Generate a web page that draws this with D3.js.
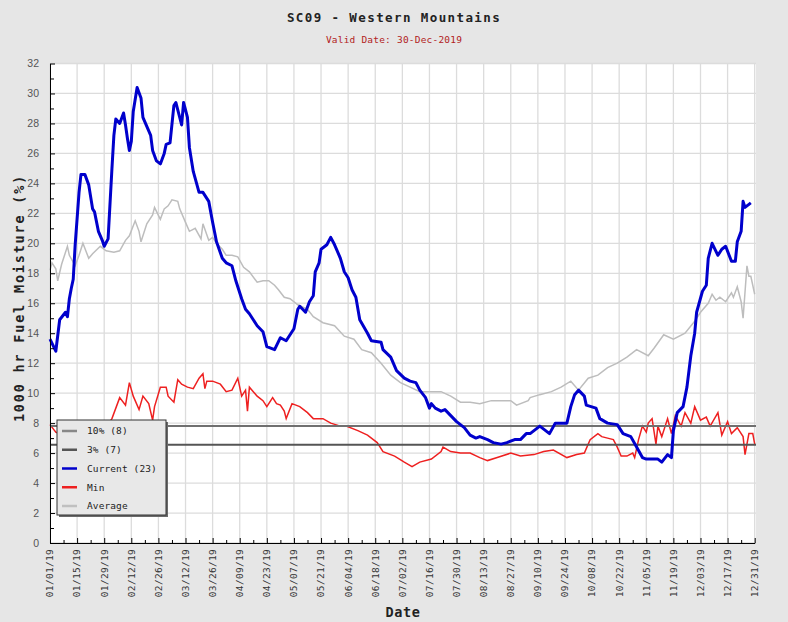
<!DOCTYPE html>
<html>
<head>
<meta charset="utf-8">
<script src="https://cdn.jsdelivr.net/npm/d3@7"></script>
<style>
body { margin: 0; background: #e6e6e6; }
svg { display: block; }
</style>
</head>
<body>
<svg id="chart" width="788" height="622"></svg>
<script>
// data: [day of year (0 = Jan 1), value]
var current = [[0,13.6],[3,12.8],[5,14.9],[8,15.4],[9,15.1],[10,16.3],[11,17.0],[12,17.6],[13,19.9],[15,23.4],[16,24.6],[18,24.6],[20,23.9],[22,22.3],[23,22.1],[25,20.8],[27,20.2],[28,19.8],[30,20.3],[32,25.0],[33,27.2],[34,28.3],[36,28.0],[38,28.7],[39,27.9],[40,27.0],[41,26.2],[42,26.8],[43,28.8],[45,30.4],[47,29.7],[48,28.4],[50,27.8],[52,27.2],[53,26.2],[55,25.5],[57,25.3],[59,26.0],[60,26.6],[62,26.7],[64,29.2],[65,29.4],[67,28.4],[68,27.9],[69,29.4],[71,28.4],[72,26.4],[74,24.8],[77,23.4],[79,23.4],[82,22.8],[84,21.4],[86,20.1],[89,19.0],[91,18.7],[94,18.5],[96,17.5],[99,16.3],[101,15.6],[103,15.3],[107,14.5],[110,14.1],[112,13.1],[116,12.9],[119,13.7],[122,13.5],[126,14.3],[128,15.6],[129,15.8],[132,15.4],[134,16.1],[136,16.5],[137,18.1],[139,18.7],[140,19.6],[143,19.9],[145,20.4],[147,19.9],[150,19.0],[152,18.1],[154,17.7],[156,16.9],[158,16.4],[160,14.9],[164,14.0],[166,13.5],[171,13.4],[172,12.9],[176,12.4],[179,11.5],[183,11.0],[186,10.8],[189,10.7],[191,10.2],[194,9.7],[196,9.0],[197,9.3],[199,9.0],[202,8.8],[204,8.9],[207,8.5],[210,8.1],[214,7.7],[217,7.2],[220,7.0],[222,7.1],[226,6.9],[229,6.7],[233,6.6],[236,6.7],[240,6.9],[243,6.9],[246,7.3],[248,7.3],[253,7.8],[258,7.3],[261,8.0],[267,8.0],[269,9.1],[271,9.9],[273,10.2],[276,9.8],[277,9.2],[282,9.0],[284,8.3],[288,8.0],[293,7.9],[296,7.3],[300,7.1],[303,6.4],[306,5.7],[308,5.6],[314,5.6],[316,5.4],[319,5.9],[321,5.7],[322,7.5],[324,8.7],[327,9.1],[329,10.4],[331,12.5],[333,14.0],[334,15.4],[337,16.8],[339,17.2],[340,19.0],[342,20.0],[345,19.2],[347,19.6],[349,19.8],[352,18.8],[354,18.8],[355,20.1],[357,20.8],[358,22.8],[359,22.4],[362,22.7]];

var minimum = [[0,7.9],[3,7.4],[8,7.1],[15,6.9],[22,7.2],[28,7.6],[32,8.3],[36,9.7],[39,9.2],[41,10.7],[43,9.8],[46,8.9],[48,9.8],[51,9.3],[53,8.2],[54,9.1],[57,10.4],[60,10.4],[61,9.8],[64,9.4],[66,10.9],[68,10.6],[71,10.4],[74,10.3],[77,11.0],[79,11.3],[80,10.3],[81,10.8],[84,10.8],[88,10.6],[91,10.1],[94,10.2],[97,11.0],[99,9.8],[101,10.2],[102,8.8],[103,10.4],[107,9.8],[110,9.5],[112,9.1],[115,9.7],[117,9.3],[119,9.2],[121,8.8],[122,8.3],[125,9.3],[129,9.1],[133,8.7],[136,8.3],[141,8.3],[145,8.0],[150,7.8],[153,7.8],[159,7.5],[164,7.2],[169,6.7],[172,6.1],[178,5.8],[183,5.4],[187,5.1],[191,5.4],[197,5.6],[202,6.1],[203,6.4],[207,6.1],[212,6.0],[217,6.0],[222,5.7],[226,5.5],[231,5.7],[238,6.0],[243,5.8],[250,5.9],[255,6.1],[260,6.2],[267,5.7],[272,5.9],[276,6.0],[279,6.9],[283,7.3],[285,7.1],[288,7.0],[291,6.9],[293,6.4],[295,5.8],[298,5.8],[301,6.0],[302,5.7],[304,6.9],[306,7.8],[308,7.4],[309,8.0],[311,8.3],[313,6.6],[314,7.8],[316,7.1],[319,8.3],[321,7.3],[323,8.5],[326,7.8],[328,8.7],[331,8.0],[333,9.1],[336,8.2],[339,8.4],[341,7.8],[345,8.7],[347,7.2],[350,8.1],[352,7.3],[355,7.7],[358,7.1],[359,5.9],[361,7.3],[363,7.3],[364,6.6]];

var average = [[0,18.2],[1,18.7],[3,18.3],[4,17.5],[6,18.6],[9,19.8],[10,19.2],[13,18.5],[15,19.2],[17,20.0],[20,19.0],[22,19.3],[26,19.8],[29,19.5],[33,19.4],[36,19.5],[39,20.2],[41,20.5],[44,21.5],[46,20.8],[47,20.1],[50,21.3],[53,21.9],[54,22.4],[57,21.6],[59,22.3],[61,22.5],[63,22.9],[66,22.8],[67,22.3],[70,21.4],[72,20.8],[75,21.0],[78,20.3],[79,21.3],[82,20.2],[84,20.4],[86,20.0],[89,19.6],[91,19.2],[94,19.2],[97,19.1],[100,18.4],[103,18.1],[107,17.4],[110,17.5],[113,17.5],[116,17.2],[118,16.9],[121,16.4],[124,16.3],[128,15.9],[133,15.6],[136,15.1],[141,14.7],[147,14.5],[152,13.8],[157,13.6],[161,12.9],[166,12.7],[171,12.0],[176,11.2],[181,10.7],[186,10.4],[191,10.1],[197,10.1],[202,10.1],[207,9.8],[212,9.4],[217,9.4],[222,9.3],[228,9.5],[233,9.5],[238,9.5],[241,9.2],[247,9.5],[248,9.7],[253,9.9],[259,10.1],[264,10.4],[269,10.8],[273,10.2],[278,11.0],[283,11.2],[288,11.7],[293,12.0],[298,12.4],[303,12.9],[309,12.5],[312,13.0],[317,13.9],[322,13.6],[328,14.0],[333,14.8],[336,15.4],[340,16.0],[342,16.6],[344,16.2],[346,16.4],[349,16.1],[352,16.7],[353,16.4],[355,17.1],[357,16.1],[358,15.0],[360,18.5],[361,17.8],[362,17.8],[364,16.6]];

// percentile reference lines
var thresholdNames = ["10% (8)", "3% (7)"];
var thresholdValues = [7.8, 6.55];

var legendNames = ["10% (8)", "3% (7)", "Current (23)", "Min", "Average"];
var legendColors = ["#888888", "#555555", "#0000cc", "#ee2020", "#c0c0c0"];

var yTicks = d3.range(0, 33, 2);
var titleText = "SC09 - Western Mountains";
var subTitle = "Valid Date: 30-Dec-2019";

var start = new Date(2019, 0, 1);
var toDate = function(d) { return d3.timeDay.offset(start, d); };

var svg = d3.select("#chart");
var m = {left: 50, right: 754.7, top: 63.5, bottom: 543, edge: 756};
var mono = "'DejaVu Sans Mono', monospace";

var x = d3.scaleTime()
    .domain([start, toDate(364)])
    .range([m.left, m.right]);
var y = d3.scaleLinear()
    .domain([0, 32])
    .range([m.bottom, m.top]);

var majorDates = d3.range(0, 365, 14).map(toDate);
var minorDates = d3.range(7, 365, 14).map(toDate);

// plot background
svg.append("rect")
    .attr("x", m.left).attr("y", m.top)
    .attr("width", m.edge - m.left).attr("height", m.bottom - m.top)
    .attr("fill", "white");

// grid
var grid = svg.append("g").attr("stroke", "#dcdcdc").attr("stroke-width", 1.3);
grid.selectAll("line.v")
    .data(majorDates)
    .enter().append("line")
    .attr("x1", d => x(d)).attr("x2", d => x(d))
    .attr("y1", m.top).attr("y2", m.bottom);
grid.selectAll("line.h")
    .data(yTicks)
    .enter().append("line")
    .attr("x1", m.left).attr("x2", m.edge)
    .attr("y1", d => y(d)).attr("y2", d => y(d));

var line = d3.line()
    .x(d => x(toDate(d[0])))
    .y(d => y(d[1]));

svg.append("path")
    .attr("d", line(average))
    .attr("fill", "none")
    .attr("stroke", "#bdbdbd")
    .attr("stroke-width", 1.5);

svg.append("path")
    .attr("d", line(minimum))
    .attr("fill", "none")
    .attr("stroke", legendColors[3])
    .attr("stroke-width", 1.5);

// threshold lines
svg.selectAll("line.thr")
    .data(thresholdValues)
    .enter().append("line")
    .attr("x1", m.left).attr("x2", m.edge)
    .attr("y1", d => y(d)).attr("y2", d => y(d))
    .attr("stroke", (d, i) => i == 0 ? "#707070" : "#555555")
    .attr("stroke-width", 2);

svg.append("path")
    .attr("d", line(current))
    .attr("fill", "none")
    .attr("stroke", legendColors[2])
    .attr("stroke-width", 3)
    .attr("stroke-linejoin", "round");

// x axis
var xAxis = svg.append("g")
    .attr("transform", `translate(0, ${m.bottom})`)
    .call(d3.axisBottom(x).tickValues(majorDates).tickSize(-5).tickSizeOuter(0)
        .tickFormat(d3.timeFormat("%m/%d/%y")));
xAxis.selectAll("text")
    .attr("transform", "rotate(-90)")
    .attr("text-anchor", "end")
    .attr("x", -6).attr("y", 0).attr("dy", "0.3em")
    .style("font-family", mono)
    .style("font-size", "9.5px")
    .style("letter-spacing", "0.3px")
    .attr("fill", "#333");
svg.append("g")
    .attr("transform", `translate(0, ${m.bottom})`)
    .call(d3.axisBottom(x).tickValues(minorDates).tickSize(-3).tickSizeOuter(0).tickFormat(""))
    .select(".domain").remove();

// y axis
var yAxis = svg.append("g")
    .attr("transform", `translate(${m.left}, 0)`)
    .call(d3.axisLeft(y).tickValues(yTicks).tickSize(-5).tickSizeOuter(0).tickPadding(11));
yAxis.selectAll("text")
    .style("font-family", "'Liberation Sans', Arial")
    .style("font-size", "10.5px")
    .attr("fill", "#555");
svg.append("g")
    .attr("transform", `translate(${m.left}, 0)`)
    .call(d3.axisLeft(y).tickValues(d3.range(1, 32, 2)).tickSize(-4).tickSizeOuter(0).tickFormat(""))
    .select(".domain").remove();

// titles
svg.append("text")
    .attr("x", 394).attr("y", 22)
    .attr("text-anchor", "middle")
    .style("font-family", mono)
    .style("font-size", "12.5px")
    .style("font-weight", "bold")
    .style("letter-spacing", "1.4px")
    .attr("fill", "#222")
    .text(titleText);
svg.append("text")
    .attr("x", 394).attr("y", 43)
    .attr("text-anchor", "middle")
    .style("font-family", mono)
    .style("font-size", "9.5px")
    .style("letter-spacing", "0.2px")
    .attr("fill", "#b22222")
    .text(subTitle);
svg.append("text")
    .attr("transform", "translate(23.5, 298) rotate(-90)")
    .attr("text-anchor", "middle")
    .style("font-family", mono)
    .style("font-size", "13.5px")
    .style("font-weight", "bold")
    .style("letter-spacing", "1.8px")
    .attr("fill", "#222")
    .text("1000 hr Fuel Moisture (%)");
svg.append("text")
    .attr("x", 403).attr("y", 617)
    .attr("text-anchor", "middle")
    .style("font-family", mono)
    .style("font-size", "13.5px")
    .style("font-weight", "bold")
    .style("letter-spacing", "0.6px")
    .attr("fill", "#222")
    .text("Date");

// legend
var lg = svg.append("g").attr("transform", "translate(57, 420)");
lg.append("rect")
    .attr("x", 2).attr("y", 2).attr("width", 109).attr("height", 95)
    .attr("fill", "#6a6a6a");
lg.append("rect")
    .attr("x", 0).attr("y", 0).attr("width", 109).attr("height", 95)
    .attr("fill", "#e8e8e8").attr("stroke", "#333").attr("stroke-width", 1);
var item = lg.selectAll("g.item")
    .data(legendNames)
    .enter().append("g")
    .attr("transform", (d, i) => `translate(0, ${11 + i * 18.75})`);
item.append("line")
    .attr("x1", 5).attr("x2", 20)
    .attr("stroke", (d, i) => legendColors[i])
    .attr("stroke-width", 2.5);
item.append("text")
    .attr("x", 30).attr("dy", "0.35em")
    .style("font-family", mono)
    .style("font-size", "9.5px")
    .style("letter-spacing", "0.1px")
    .attr("fill", "#222")
    .text(d => d);
</script>
</body>
</html>
